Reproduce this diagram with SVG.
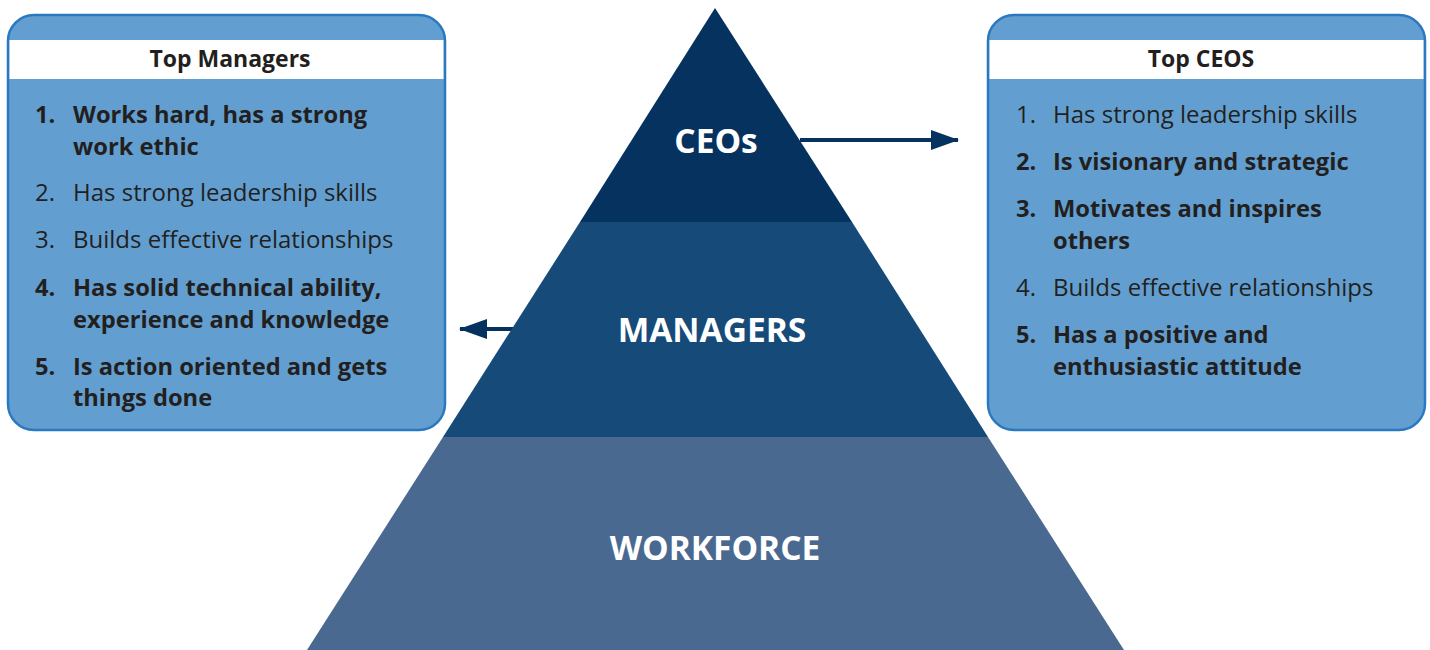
<svg xmlns="http://www.w3.org/2000/svg" width="1430" height="650" viewBox="0 0 1430 650">
<style>
.box{fill:#629fd0;stroke:#2a79c0;stroke-width:2.5}
.hdr{fill:#ffffff}
.ht{font-family:"Open Sans","Liberation Sans",sans-serif;font-weight:bold;font-size:23px;fill:#231f20;text-anchor:middle}
.it{font-family:"Open Sans","Liberation Sans",sans-serif;font-size:24px;fill:#231f20}
.b{font-weight:bold;font-size:23.7px}
.pl{font-family:"Open Sans","Liberation Sans",sans-serif;font-weight:bold;font-size:33.5px;fill:#ffffff;text-anchor:middle}
.arr{stroke:#05325f;stroke-width:4;fill:none}
</style>
<defs>
<marker id="ah" markerWidth="28" markerHeight="20" refX="27" refY="10" orient="auto" markerUnits="userSpaceOnUse">
<path d="M0,0 L28,10 L0,20 Z" fill="#05325f"/>
</marker>
</defs>
<g id="connectors">
<line class="arr" x1="800" y1="140" x2="958" y2="140" marker-end="url(#ah)"/>
<line class="arr" x1="520" y1="329" x2="460" y2="329" marker-end="url(#ah)"/>
</g>
<g id="pyramid">
<g id="ceos">
<polygon points="715,8 852,222 580,222" fill="#05325f"/>
<text class="pl" x="716" y="153">CEOs</text>
</g>
<g id="managers">
<polygon points="580,222 852,222 988,437 443,437" fill="#164a78"/>
<text class="pl" x="712" y="342">MANAGERS</text>
</g>
<g id="workforce">
<polygon points="443,437 988,437 1124,650 307,650" fill="#4a6990"/>
<text class="pl" x="715" y="560">WORKFORCE</text>
</g>
</g>
<g id="top-managers">
<rect class="box" x="8" y="15" width="437" height="415" rx="26"/>
<rect class="hdr" x="9.5" y="40" width="434" height="39"/>
<text class="ht" x="230" y="67">Top Managers</text>
<text class="it b" x="35" y="123">1.</text>
<text class="it b" x="73" y="123">Works hard, has a strong</text>
<text class="it b" x="73" y="155">work ethic</text>
<text class="it" x="35" y="201">2.</text>
<text class="it" x="73" y="201">Has strong leadership skills</text>
<text class="it" x="35" y="248">3.</text>
<text class="it" x="73" y="248">Builds effective relationships</text>
<text class="it b" x="35" y="296">4.</text>
<text class="it b" x="73" y="296">Has solid technical ability,</text>
<text class="it b" x="73" y="328">experience and knowledge</text>
<text class="it b" x="35" y="375">5.</text>
<text class="it b" x="73" y="375">Is action oriented and gets</text>
<text class="it b" x="73" y="406">things done</text>
</g>
<g id="top-ceos">
<rect class="box" x="988" y="15" width="437" height="415" rx="26"/>
<rect class="hdr" x="989.5" y="40" width="434" height="39"/>
<text class="ht" x="1201" y="67">Top CEOS</text>
<text class="it" x="1016" y="123">1.</text>
<text class="it" x="1053" y="123">Has strong leadership skills</text>
<text class="it b" x="1016" y="170">2.</text>
<text class="it b" x="1053" y="170">Is visionary and strategic</text>
<text class="it b" x="1016" y="217">3.</text>
<text class="it b" x="1053" y="217">Motivates and inspires</text>
<text class="it b" x="1053" y="249">others</text>
<text class="it" x="1016" y="296">4.</text>
<text class="it" x="1053" y="296">Builds effective relationships</text>
<text class="it b" x="1016" y="343">5.</text>
<text class="it b" x="1053" y="343">Has a positive and</text>
<text class="it b" x="1053" y="375">enthusiastic attitude</text>
</g>
</svg>
